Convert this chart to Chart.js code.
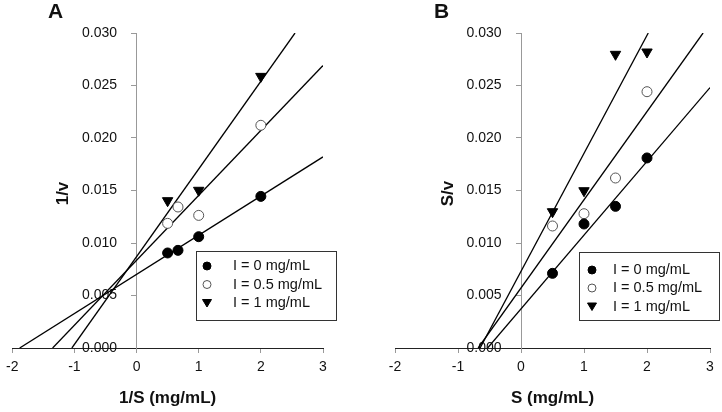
<!DOCTYPE html>
<html>
<head>
<meta charset="utf-8">
<script src="https://cdn.jsdelivr.net/npm/chart.js@4.4.1/dist/chart.umd.min.js"></script>
<style>
  body { margin: 0; background: #fff; }
  #wrap { display: flex; width: 722px; height: 412px; }
  .panel { position: relative; width: 361px; height: 412px; }
  .letter { position: absolute; top: 0; font: bold 21px/21px "Liberation Sans", Arial, sans-serif; color: #111; }
</style>
</head>
<body>
<div id="wrap">
  <div class="panel"><div class="letter" style="left:48px">A</div><canvas id="chartA" width="361" height="412"></canvas></div>
  <div class="panel"><div class="letter" style="left:73px">B</div><canvas id="chartB" width="361" height="412"></canvas></div>
</div>
<script>
//Ejes
const xTickValues = [-2, -1, 0, 1, 2, 3];
const yTickValues = [0, 0.005, 0.010, 0.015, 0.020, 0.025, 0.030];
const yTickLabels = ['0.000', '0.005', '0.010', '0.015', '0.020', '0.025', '0.030'];
const seriesLabels = ['I = 0 mg/mL', 'I = 0.5 mg/mL', 'I = 1 mg/mL'];

//Panel A: 1/S contra 1/v
const invS = [0.5, 0.667, 1, 2];
const invS_I1 = [0.5, 1, 2];
const invV_I0 = [0.00905, 0.0093, 0.0106, 0.01444];
const invV_I05 = [0.01187, 0.01343, 0.01263, 0.02121];
const invV_I1 = [0.01403, 0.01502, 0.02587];
//rectas de ajuste A (extremos)
const fitA_x = [[-1.88, 3], [-1.35, 3], [-1.04, 2.55]];
const fitA_y = [[0, 0.0182], [0, 0.0269], [0, 0.030]];

//Panel B: S contra S/v
const sVals = [0.5, 1, 1.5, 2];
const sv_I0 = [0.00711, 0.01181, 0.01349, 0.0181];
const sv_I05 = [0.01162, 0.01279, 0.01619, 0.02441];
const sv_I1 = [0.01298, 0.01498, 0.02797, 0.02819];
//rectas de ajuste B (extremos)
const fitB_x = [[-0.53, 3], [-0.68, 2.89], [-0.65, 2.02]];
const fitB_y = [[0, 0.0248], [0, 0.030], [0, 0.030]];

const FONT = '"Liberation Sans", Arial, sans-serif';
const markers = [
    { pointStyle: 'circle', rotation: 0, radius: 5, bg: '#000', border: '#000' },
    { pointStyle: 'circle', rotation: 0, radius: 5, bg: '#fff', border: '#555' },
    { pointStyle: 'triangle', rotation: 180, radius: 6, bg: '#000', border: '#000' }
];
//separacion entre etiqueta y eje y (el eje va en x = 0)
const GAP = '\u00a0\u00a0\u00a0\u00a0\u00a0';

const pts = (xs, ys) => xs.map((x, i) => ({ x: x, y: ys[i] }));

//Titulo eje y, rotado, junto al eje en x = 0
const yTitlePlugin = {
    id: 'yTitle',
    afterDraw(chart, args, opts) {
        const { ctx, chartArea, scales } = chart;
        const x = scales.x.getPixelForValue(0) - opts.offset;
        const y = (chartArea.top + chartArea.bottom) / 2 + 3;
        ctx.save();
        ctx.translate(x, y);
        ctx.rotate(-Math.PI / 2);
        ctx.font = 'bold 17px ' + FONT;
        ctx.fillStyle = '#111';
        ctx.textAlign = 'center';
        ctx.textBaseline = 'middle';
        ctx.fillText(opts.text, 0, 0);
        ctx.restore();
    }
};

//Leyenda en recuadro
const legendBoxPlugin = {
    id: 'legendBox',
    afterDraw(chart, args, o) {
        const ctx = chart.ctx;
        ctx.save();
        ctx.fillStyle = '#fff';
        ctx.fillRect(o.x, o.y, o.w, o.h);
        ctx.strokeStyle = '#333';
        ctx.lineWidth = 1;
        ctx.strokeRect(o.x + 0.5, o.y + 0.5, o.w, o.h);
        ctx.font = '14.5px ' + FONT;
        ctx.textBaseline = 'middle';
        seriesLabels.forEach((label, i) => {
            const m = markers[i];
            const cy = o.rows[i];
            ctx.fillStyle = m.bg;
            ctx.strokeStyle = m.border;
            ctx.beginPath();
            if (m.pointStyle === 'circle') {
                ctx.arc(o.markX, cy, 4, 0, Math.PI * 2);
            } else {
                ctx.moveTo(o.markX - 4.5, cy - 3.5);
                ctx.lineTo(o.markX + 4.5, cy - 3.5);
                ctx.lineTo(o.markX, cy + 4);
                ctx.closePath();
            }
            ctx.fill();
            ctx.stroke();
            ctx.fillStyle = '#111';
            ctx.fillText(label, o.textX, cy);
        });
        ctx.restore();
    }
};

function makeChart(id, series, fitX, fitY, xTitle, yTitle, pad, legend) {
    const datasets = [];
    series.forEach((s, i) => {
        const m = markers[i];
        datasets.push({
            label: seriesLabels[i],
            data: pts(s.x, s.y),
            pointStyle: m.pointStyle,
            rotation: m.rotation,
            pointRadius: m.radius,
            pointBackgroundColor: m.bg,
            pointBorderColor: m.border,
            pointBorderWidth: 1,
            showLine: false
        });
    });
    fitX.forEach((fx, i) => {
        datasets.push({
            label: 'ajuste ' + seriesLabels[i],
            data: pts(fx, fitY[i]),
            showLine: true,
            pointRadius: 0,
            borderColor: '#000',
            borderWidth: 1.3,
            fill: false
        });
    });

    return new Chart(document.getElementById(id), {
        type: 'scatter',
        data: { datasets: datasets },
        options: {
            responsive: false,
            animation: false,
            devicePixelRatio: 1,
            layout: { padding: pad },
            scales: {
                x: {
                    type: 'linear',
                    position: 'bottom',
                    min: -2,
                    max: 3,
                    afterBuildTicks: (s) => { s.ticks = xTickValues.map(v => ({ value: v })); },
                    afterFit: (s) => { s.height = 64; },
                    ticks: { color: '#111', font: { family: FONT, size: 14 }, padding: 6 },
                    grid: { drawOnChartArea: false, drawTicks: true, tickLength: 5, color: '#999' },
                    border: { display: true, color: '#222', width: 1 },
                    title: {
                        display: true,
                        text: xTitle,
                        color: '#111',
                        font: { family: FONT, size: 17, weight: 'bold' },
                        padding: { top: 12, bottom: 3 }
                    }
                },
                y: {
                    type: 'linear',
                    position: { x: 0 },
                    min: 0,
                    max: 0.03,
                    afterBuildTicks: (s) => { s.ticks = yTickValues.map(v => ({ value: v })); },
                    afterFit: (s) => { s.width = 0; },
                    ticks: {
                        color: '#111',
                        font: { family: FONT, size: 14 },
                        callback: (v, i) => yTickLabels[i] + GAP
                    },
                    grid: { drawOnChartArea: false, drawTicks: true, tickLength: 5, color: '#999' },
                    border: { display: true, color: '#999', width: 1 }
                }
            },
            plugins: {
                legend: { display: false },
                tooltip: { enabled: false },
                yTitle: { text: yTitle, offset: 73 },
                legendBox: legend
            }
        },
        plugins: [yTitlePlugin, legendBoxPlugin]
    });
}

makeChart('chartA',
    [{ x: invS, y: invV_I0 }, { x: invS, y: invV_I05 }, { x: invS_I1, y: invV_I1 }],
    fitA_x, fitA_y, '1/S (mg/mL)', '1/v',
    { left: 7, right: 38, top: 33, bottom: 0 },
    { x: 196, y: 251, w: 140, h: 69, markX: 207, textX: 233, rows: [266, 284.5, 303] });

makeChart('chartB',
    [{ x: sVals, y: sv_I0 }, { x: sVals, y: sv_I05 }, { x: sVals, y: sv_I1 }],
    fitB_x, fitB_y, 'S (mg/mL)', 'S/v',
    { left: 34, right: 12, top: 33, bottom: 0 },
    { x: 218, y: 252, w: 140, h: 68, markX: 231, textX: 252, rows: [270, 288, 306.5] });
</script>
</body>
</html>
